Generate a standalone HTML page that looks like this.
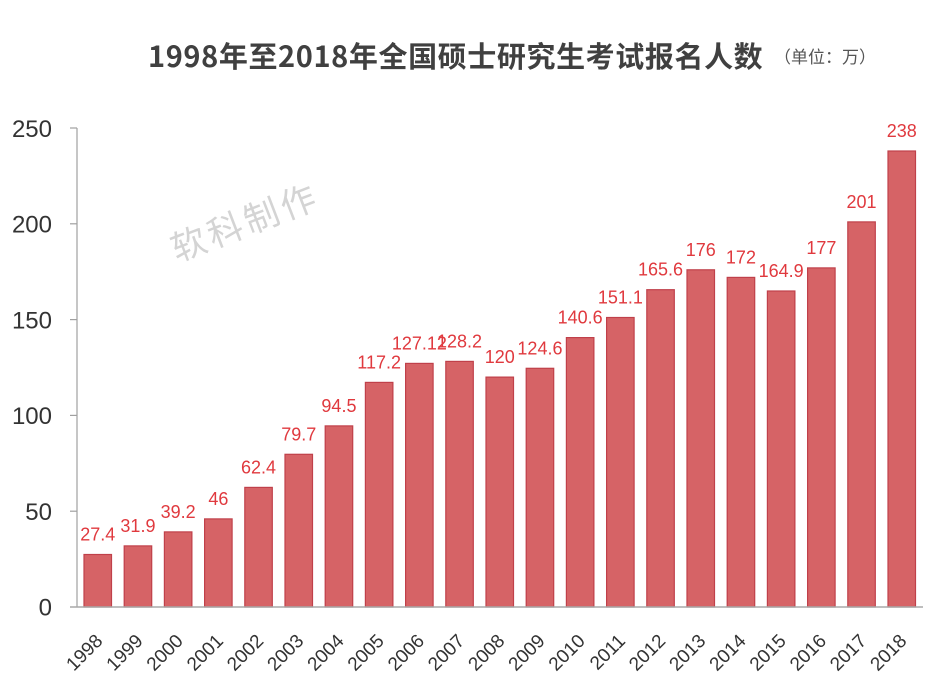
<!DOCTYPE html>
<html>
<head>
<meta charset="utf-8">
<style>
  html,body{margin:0;padding:0;background:#fff;}
  svg{display:block;}
</style>
</head>
<body>
<svg width="949" height="699" viewBox="0 0 949 699" xmlns="http://www.w3.org/2000/svg">
  <rect width="949" height="699" fill="#fff"/>
  <!-- Title -->
  <text x="148" y="67" font-family="'Noto Sans CJK SC','Liberation Sans',sans-serif" font-size="29" font-weight="bold" fill="#404040" letter-spacing="0.6">1998年至2018年全国硕士研究生考试报名人数</text>
  <text x="774" y="63" font-family="'Noto Sans CJK SC','Liberation Sans',sans-serif" font-size="17" fill="#555">（单位：万）</text>

  <!-- Watermark -->
  <text x="245" y="235" text-anchor="middle" transform="rotate(-21 245 222)" font-family="'Noto Sans CJK SC',sans-serif" font-size="35" letter-spacing="4" fill="#d4d4d4">软科制作</text>

  <!-- Y axis -->
  <g stroke="#a0a0a0" stroke-width="1.2" fill="none">
    <line x1="77" y1="128" x2="77" y2="607"/>
    <line x1="70" y1="128" x2="77" y2="128"/>
    <line x1="70" y1="223.8" x2="77" y2="223.8"/>
    <line x1="70" y1="319.6" x2="77" y2="319.6"/>
    <line x1="70" y1="415.4" x2="77" y2="415.4"/>
    <line x1="70" y1="511.2" x2="77" y2="511.2"/>
  </g>
  <g font-family="'Liberation Sans',sans-serif" font-size="24" fill="#333" text-anchor="end">
    <text x="52" y="137">250</text>
    <text x="52" y="232.5">200</text>
    <text x="52" y="328.3">150</text>
    <text x="52" y="424">100</text>
    <text x="52" y="520">50</text>
    <text x="52" y="615.5">0</text>
  </g>

  <!-- Bars -->
  <g fill="#d66366" stroke="#c0404a" stroke-width="1.2">
    <rect x="84.0" y="554.5" width="27.5" height="52.5"/>
    <rect x="124.2" y="545.9" width="27.5" height="61.1"/>
    <rect x="164.4" y="531.9" width="27.5" height="75.1"/>
    <rect x="204.6" y="518.9" width="27.5" height="88.1"/>
    <rect x="244.8" y="487.4" width="27.5" height="119.6"/>
    <rect x="285.0" y="454.3" width="27.5" height="152.7"/>
    <rect x="325.2" y="425.9" width="27.5" height="181.1"/>
    <rect x="365.4" y="382.4" width="27.5" height="224.6"/>
    <rect x="405.6" y="363.4" width="27.5" height="243.6"/>
    <rect x="445.8" y="361.4" width="27.5" height="245.6"/>
    <rect x="486.0" y="377.1" width="27.5" height="229.9"/>
    <rect x="526.2" y="368.3" width="27.5" height="238.7"/>
    <rect x="566.4" y="337.6" width="27.5" height="269.4"/>
    <rect x="606.6" y="317.5" width="27.5" height="289.5"/>
    <rect x="646.8" y="289.7" width="27.5" height="317.3"/>
    <rect x="687.0" y="269.8" width="27.5" height="337.2"/>
    <rect x="727.2" y="277.4" width="27.5" height="329.6"/>
    <rect x="767.4" y="291.0" width="27.5" height="316.0"/>
    <rect x="807.6" y="267.9" width="27.5" height="339.1"/>
    <rect x="847.8" y="221.9" width="27.5" height="385.1"/>
    <rect x="888.0" y="151.0" width="27.5" height="456.0"/>
  </g>

  <!-- Baseline -->
  <line x1="70" y1="607" x2="923" y2="607" stroke="#a8a8a8" stroke-width="1.4"/>

  <!-- Value labels -->
  <g font-family="'Liberation Sans',sans-serif" font-size="18" fill="#e0393e" text-anchor="middle">
    <text x="97.75" y="540.5">27.4</text>
    <text x="137.95" y="531.9">31.9</text>
    <text x="178.15" y="517.9">39.2</text>
    <text x="218.35" y="504.9">46</text>
    <text x="258.55" y="473.4">62.4</text>
    <text x="298.75" y="440.3">79.7</text>
    <text x="338.95" y="411.9">94.5</text>
    <text x="379.15" y="368.4">117.2</text>
    <text x="419.35" y="349.4">127.12</text>
    <text x="459.55" y="347.4">128.2</text>
    <text x="499.75" y="363.1">120</text>
    <text x="539.95" y="354.3">124.6</text>
    <text x="580.15" y="323.6">140.6</text>
    <text x="620.35" y="303.5">151.1</text>
    <text x="660.55" y="275.7">165.6</text>
    <text x="700.75" y="255.8">176</text>
    <text x="740.95" y="263.4">172</text>
    <text x="781.15" y="277.0">164.9</text>
    <text x="821.35" y="253.9">177</text>
    <text x="861.55" y="207.9">201</text>
    <text x="901.75" y="137.0">238</text>
  </g>

  <!-- X labels -->
  <g font-family="'Liberation Sans',sans-serif" font-size="19" fill="#333" text-anchor="end">
    <text x="103.75" y="642" transform="rotate(-45 103.75 642)">1998</text>
    <text x="143.95" y="642" transform="rotate(-45 143.95 642)">1999</text>
    <text x="184.15" y="642" transform="rotate(-45 184.15 642)">2000</text>
    <text x="224.35" y="642" transform="rotate(-45 224.35 642)">2001</text>
    <text x="264.55" y="642" transform="rotate(-45 264.55 642)">2002</text>
    <text x="304.75" y="642" transform="rotate(-45 304.75 642)">2003</text>
    <text x="344.95" y="642" transform="rotate(-45 344.95 642)">2004</text>
    <text x="385.15" y="642" transform="rotate(-45 385.15 642)">2005</text>
    <text x="425.35" y="642" transform="rotate(-45 425.35 642)">2006</text>
    <text x="465.55" y="642" transform="rotate(-45 465.55 642)">2007</text>
    <text x="505.75" y="642" transform="rotate(-45 505.75 642)">2008</text>
    <text x="545.95" y="642" transform="rotate(-45 545.95 642)">2009</text>
    <text x="586.15" y="642" transform="rotate(-45 586.15 642)">2010</text>
    <text x="626.35" y="642" transform="rotate(-45 626.35 642)">2011</text>
    <text x="666.55" y="642" transform="rotate(-45 666.55 642)">2012</text>
    <text x="706.75" y="642" transform="rotate(-45 706.75 642)">2013</text>
    <text x="746.95" y="642" transform="rotate(-45 746.95 642)">2014</text>
    <text x="787.15" y="642" transform="rotate(-45 787.15 642)">2015</text>
    <text x="827.35" y="642" transform="rotate(-45 827.35 642)">2016</text>
    <text x="867.55" y="642" transform="rotate(-45 867.55 642)">2017</text>
    <text x="907.75" y="642" transform="rotate(-45 907.75 642)">2018</text>
  </g>
</svg>
</body>
</html>
